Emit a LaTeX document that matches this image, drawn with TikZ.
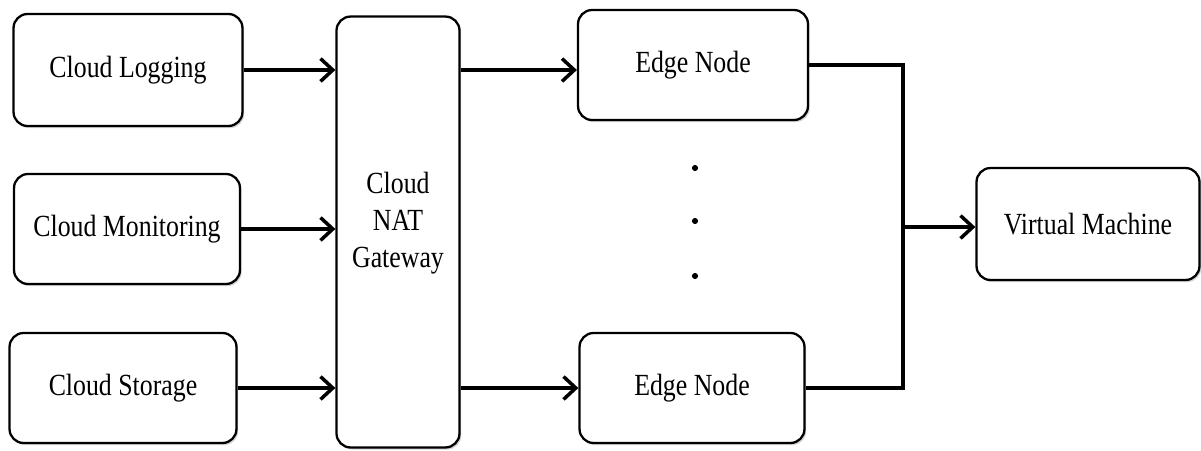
\documentclass[tikz,border=0pt]{standalone}
\usepackage{fontspec}
\setmainfont[FakeStretch=0.84]{Liberation Serif}
\usepackage{tikz}
\usetikzlibrary{arrows.meta, positioning, shadows}

\begin{document}
\begin{tikzpicture}[
  x=0.02cm, y=-0.02cm,
  font=\fontsize{17.5}{21}\selectfont,
  cloudbox/.style={draw=black, line width=1.3pt, rounded corners=8pt, fill=white,
                   align=center, inner sep=2pt,
                   drop shadow={shadow xshift=1pt, shadow yshift=-1.2pt, opacity=0.35}},
  arr/.style={-{Straight Barb[length=7pt, width=13pt, line width=2pt]}, line width=2.2pt},
  wire/.style={line width=2pt},
  dotmark/.style={circle, fill=black, inner sep=0pt, minimum size=3.5pt},
]
\useasboundingbox (0,0) rectangle (1201,450);

% Cloud services
\node[cloudbox, minimum width=4.58cm, minimum height=2.24cm] (log) at (128,70) {Cloud Logging};
\node[cloudbox, minimum width=4.52cm, minimum height=2.2cm] (mon) at (127,229) {Cloud Monitoring};
\node[cloudbox, minimum width=4.54cm, minimum height=2.2cm] (sto) at (123,388) {Cloud Storage};

% Gateway
\node[cloudbox, minimum width=2.46cm, minimum height=8.62cm] (nat) at (398,232)
  {Cloud\\NAT\\Gateway\\[-7.5pt]\mbox{}};

% Edge nodes
\node[cloudbox, minimum width=4.6cm, minimum height=2.2cm] (e1) at (693,65) {Edge Node};
\node[cloudbox, minimum width=4.5cm, minimum height=2.2cm] (e2) at (692,388) {Edge Node};
\node[dotmark] (d1) at (695,168) {};
\node[dotmark] (d2) at (695,221) {};
\node[dotmark] (d3) at (695,276) {};

% Virtual machine
\node[cloudbox, minimum width=4.46cm, minimum height=2.24cm] (vm) at (1088,224) {Virtual Machine};
\coordinate (join) at (903,227);

% Arrows
\foreach \s in {log,mon,sto} { \draw[arr] (\s.east) -- (nat.west |- \s); }
\draw[arr] (nat.east |- log) -- (e1.west |- log);
\draw[arr] (nat.east |- e2) -- (e2.west);
\draw[wire] (e1.east) -| (join) |- (e2.east);
\draw[arr] (join) -- (vm.west |- join);

\end{tikzpicture}
\end{document}
